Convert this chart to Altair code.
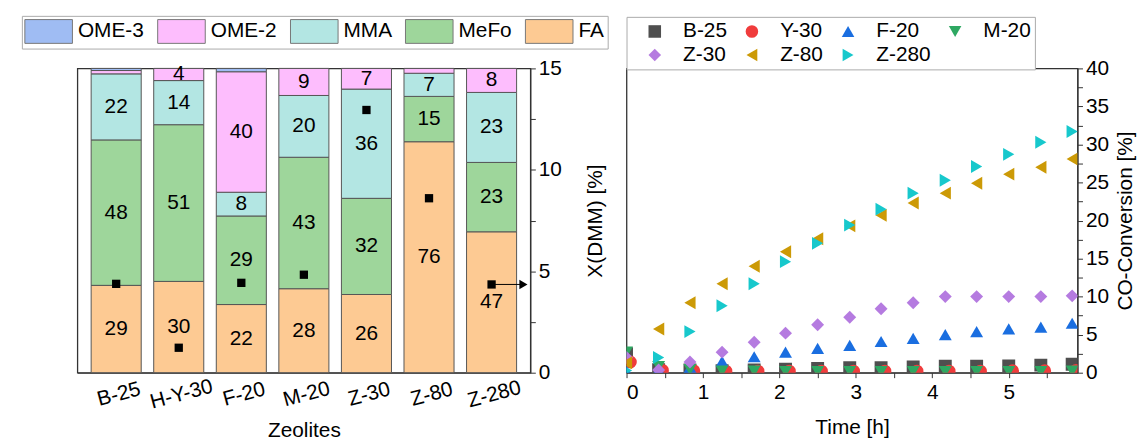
import altair as alt
import pandas as pd

FONT = "Liberation Sans"
FS = 21

# ---------------- Left chart data ----------------
zeolites = ["B-25", "H-Y-30", "F-20", "M-20", "Z-30", "Z-80", "Z-280"]
legend_order = ["OME-3", "OME-2", "MMA", "MeFo", "FA"]
legend_colors = ["#9fbcf3", "#fdbdfd", "#b3e6e3", "#9ed69b", "#fdca93"]
stack_order = ["FA", "MeFo", "MMA", "OME-2", "OME-3"]

fa = [28.7, 30.0, 22.4, 27.6, 25.7, 75.9, 46.3]
mefo = [47.8, 51.5, 29.1, 43.2, 31.6, 14.9, 22.8]
mma = [21.7, 14.5, 7.8, 20.3, 35.9, 7.6, 23.0]
ome2 = [1.1, 4.0, 39.6, 8.9, 6.8, 1.6, 7.9]
ome3 = [0.7, 0.0, 1.1, 0.0, 0.0, 0.0, 0.0]

lab_fa = [29, 30, 22, 28, 26, 76, 47]
lab_mefo = [48, 51, 29, 43, 32, 15, 23]
lab_mma = [22, 14, 8, 20, 36, 7, 23]
lab_ome2 = [None, 4, 40, 9, 7, None, 8]
lab_ome3 = [None, None, None, None, None, None, None]

x_dmm = [4.38, 1.23, 4.43, 4.83, 12.95, 8.6, 4.35]
arrow_zeolite = "Z-280"

# ---------------- Right chart data ----------------
series_names = ["B-25", "Y-30", "F-20", "M-20", "Z-30", "Z-80", "Z-280"]
series_colors = ["#4f4f4f", "#f03c3c", "#1a6ee0", "#2ea862", "#b57be0", "#cc9a06", "#17c8cc"]
series_shapes = ["square", "circle", "triangle-up", "triangle-down", "diamond", "triangle-left", "triangle-right"]

time_h = [0, 0.42, 0.83, 1.25, 1.67, 2.08, 2.5, 2.92, 3.33, 3.75, 4.17, 4.58, 5.0, 5.42, 5.83]
time_y30 = [0.05, 0.47, 0.88, 1.30, 1.72, 2.13, 2.55, 2.97, 3.38, 3.80, 4.22, 4.63, 5.05, 5.47, 5.88]

conv_b25 = [2.5, 0.4, 0.35, 0.25, 0.35, 0.45, 0.55, 0.65, 0.65, 0.75, 0.85, 0.85, 0.9, 1.0, 1.1]
conv_y30 = [1.4, 0.3, 0.25, 0.2, 0.2, 0.2, 0.2, 0.2, 0.2, 0.2, 0.2, 0.2, 0.25, 0.25, 0.3]
conv_f20 = [0.2, 0.4, 0.7, 1.5, 2.1, 2.7, 3.2, 3.6, 4.1, 4.5, 5.0, 5.4, 5.75, 6.0, 6.5]
conv_m20 = [2.7, 0.8, 0.4, 0.2, 0.2, 0.15, 0.15, 0.15, 0.15, 0.15, 0.15, 0.15, 0.15, 0.15, 0.2]
conv_z30 = [2.0, 0.35, 1.4, 2.7, 4.0, 5.2, 6.3, 7.3, 8.4, 9.2, 10.0, 10.0, 10.0, 10.0, 10.1]
conv_z80 = [1.3, 5.75, 9.2, 11.7, 14.0, 15.9, 17.6, 19.3, 20.7, 22.3, 23.6, 24.9, 26.1, 27.0, 28.1]
conv_z280 = [0.3, 2.0, 5.4, 8.8, 11.7, 14.6, 17.0, 19.4, 21.5, 23.6, 25.3, 27.1, 28.7, 30.3, 31.7]

# ---------------- Build tables ----------------
vals = {"FA": fa, "MeFo": mefo, "MMA": mma, "OME-2": ome2, "OME-3": ome3}
labs = {"FA": lab_fa, "MeFo": lab_mefo, "MMA": lab_mma, "OME-2": lab_ome2, "OME-3": lab_ome3}
rows = []
for i, z in enumerate(zeolites):
    base = 0.0
    for k, c in enumerate(stack_order):
        v = vals[c][i]
        if v > 0:
            lab = labs[c][i]
            rows.append(dict(zeolite=z, comp=c, value=v, ord=k, mid=base + v / 2,
                             label="" if lab is None else str(lab)))
        base += v
df_bar = pd.DataFrame(rows)
df_lab = df_bar[df_bar["label"] != ""]
df_dmm = pd.DataFrame({"zeolite": zeolites, "xdmm": x_dmm})
df_arrow = df_dmm[df_dmm["zeolite"] == arrow_zeolite]

conv = {"B-25": conv_b25, "Y-30": conv_y30, "F-20": conv_f20, "M-20": conv_m20,
        "Z-30": conv_z30, "Z-80": conv_z80, "Z-280": conv_z280}
srows = []
for s in series_names:
    tt = time_y30 if s == "Y-30" else time_h
    for t, v in zip(tt, conv[s]):
        srows.append(dict(series=s, time=t, value=v))
df_sc = pd.DataFrame(srows)

W1, H1 = 457, 307
W2, H2 = 455, 307

axis_common = dict(labelFont=FONT, titleFont=FONT, labelFontSize=FS, titleFontSize=FS,
                   labelColor="black", titleColor="black", titleFontWeight="normal",
                   domainColor="#333", tickColor="#333", grid=False)

x_left = alt.X("zeolite:N", sort=zeolites,
               scale=alt.Scale(paddingInner=0.2, paddingOuter=0.22),
               axis=alt.Axis(title="Zeolites", labelAngle=-15, labelAlign="center",
                             labelBaseline="top", ticks=False, labelPadding=11,
                             titlePadding=8, **axis_common))

bars = alt.Chart(df_bar).mark_bar(stroke="#555555", strokeWidth=1).encode(
    x=x_left,
    y=alt.Y("value:Q", stack="zero", scale=alt.Scale(domain=[0, 100], nice=False),
            axis=alt.Axis(title="rel.conc. [%]", orient="left",
                          values=list(range(0, 101, 10)),
                          labelExpr="datum.value % 20 == 0 ? datum.label : ''",
                          tickSize=5, labelPadding=3, titlePadding=4, **axis_common)),
    color=alt.Color("comp:N", scale=alt.Scale(domain=legend_order, range=legend_colors),
                    legend=alt.Legend(title=None, orient="none", direction="horizontal",
                                      legendX=-56, legendY=-53,
                                      symbolType="M-2,-1H2V1H-2Z", symbolSize=576,
                                      symbolStrokeColor="#777", symbolStrokeWidth=1,
                                      symbolOpacity=1, symbolOffset=11.5,
                                      labelFont=FONT, labelFontSize=FS, labelColor="black",
                                      labelOffset=17, columnPadding=11,
                                      strokeColor="#aaaaaa", fillColor="white",
                                      padding=3)),
    order=alt.Order("ord:Q"),
)

texts = alt.Chart(df_lab).mark_text(font=FONT, fontSize=FS, color="black").encode(
    x=alt.X("zeolite:N", sort=zeolites),
    y=alt.Y("mid:Q", scale=alt.Scale(domain=[0, 100], nice=False), axis=None),
    text="label:N",
)

y_dmm_scale = alt.Scale(domain=[0, 15], nice=False)
squares = alt.Chart(df_dmm).mark_point(shape="square", filled=True, size=70, color="black", opacity=1).encode(
    x=alt.X("zeolite:N", sort=zeolites),
    y=alt.Y("xdmm:Q", scale=y_dmm_scale,
            axis=alt.Axis(title="X(DMM) [%]", orient="right",
                          values=[0, 2.5, 5, 7.5, 10, 12.5, 15],
                          labelExpr="datum.value % 5 == 0 ? datum.label : ''",
                          tickSize=5, labelPadding=3, titlePadding=23, titleAngle=270,
                          titleBaseline="top", **axis_common)),
)
arrow_line = alt.Chart(df_arrow).mark_rule(color="black", strokeWidth=1).encode(
    x=alt.X("zeolite:N", sort=zeolites),
    x2=alt.value(W1 - 8),
    y=alt.Y("xdmm:Q", scale=y_dmm_scale),
)
arrow_head = alt.Chart(df_arrow).mark_point(shape="triangle-right", filled=True, size=90,
                                            color="black", opacity=1).encode(
    x=alt.value(W1 - 7),
    y=alt.Y("xdmm:Q", scale=y_dmm_scale),
)

left = alt.layer(
    alt.layer(bars, texts),
    alt.layer(squares, arrow_line, arrow_head),
).resolve_scale(y="independent").properties(width=W1, height=H1)

# ---------------- Right chart ----------------
right_legend = alt.Legend(title=None, orient="none", direction="horizontal",
                          legendX=0, legendY=-52, columns=4,
                          symbolSize=160, symbolOffset=14,
                          labelFont=FONT, labelFontSize=FS, labelColor="black",
                          labelOffset=18, columnPadding=0, rowPadding=2,
                          strokeColor="#aaaaaa", fillColor="white", padding=4,
                          symbolOpacity=1)
scatter = alt.Chart(df_sc).mark_point(filled=True, opacity=1, size=170, clip=True).encode(
    x=alt.X("time:Q", scale=alt.Scale(domain=[0, 5.9], nice=False),
            axis=alt.Axis(title="Time [h]", values=[0, 0.5, 1, 1.5, 2, 2.5, 3, 3.5, 4, 4.5, 5, 5.5],
                          labelExpr="datum.value % 1 == 0 ? format(datum.value, 'd') : ''",
                          tickSize=5, labelPadding=4, titlePadding=14, **axis_common)),
    y=alt.Y("value:Q", scale=alt.Scale(domain=[0, 40], nice=False),
            axis=alt.Axis(title="CO-Conversion [%]", orient="right",
                          values=[v * 2.5 for v in range(0, 17)],
                          labelExpr="datum.value % 5 == 0 ? format(datum.value, 'd') : ''",
                          tickSize=5, labelPadding=3, titlePadding=6, titleAngle=270,
                          titleBaseline="top", **axis_common)),
    color=alt.Color("series:N", scale=alt.Scale(domain=series_names, range=series_colors),
                    legend=right_legend),
    shape=alt.Shape("series:N", scale=alt.Scale(domain=series_names, range=series_shapes),
                    legend=right_legend),
).properties(width=W2, height=H2)

chart = alt.hconcat(left, scatter, spacing=15).resolve_scale(
    color="independent", shape="independent"
).resolve_legend(color="independent", shape="independent").configure(
    padding={"left": 12, "top": 4, "right": 0, "bottom": 0},
    font=FONT,
).configure_view(stroke="#333333", strokeWidth=1.3)

chart.save("out.html", embed_options={"renderer": "svg", "actions": False})
